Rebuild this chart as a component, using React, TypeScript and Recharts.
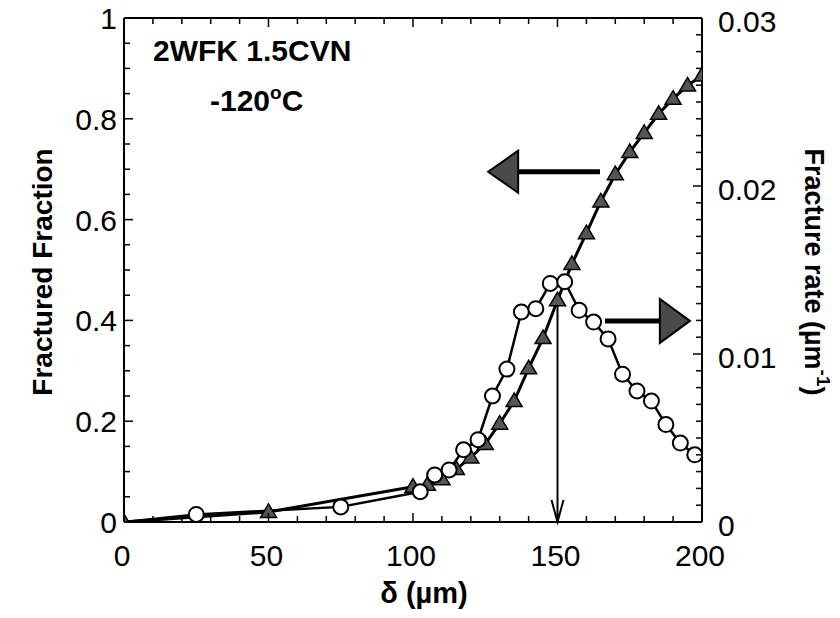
import React from 'react';
import {
  ComposedChart,
  Line,
  XAxis,
  YAxis,
  ReferenceLine,
  ReferenceDot,
  Customized,
} from 'recharts';

const FONT = '"Liberation Sans", Arial, Helvetica, sans-serif';

// Fractured fraction (left axis), triangles
const deltaFraction = [0, 50, 100, 105, 110, 115, 120, 125, 130, 135, 140, 145, 150, 155, 160, 165, 170, 175, 180, 185, 190, 195, 200];
const fracturedFraction = [0, 0.02, 0.07, 0.074, 0.085, 0.105, 0.128, 0.155, 0.195, 0.24, 0.305, 0.365, 0.44, 0.512, 0.573, 0.636, 0.69, 0.734, 0.772, 0.81, 0.84, 0.866, 0.886];

// Fracture rate (right axis), circles
const deltaRate = [0, 25, 75, 102.5, 107.5, 112.5, 117.5, 122.5, 127.5, 132.5, 137.5, 142.5, 147.5, 152.5, 157.5, 162.5, 167.5, 172.5, 177.5, 182.5, 187.5, 192.5, 197.5];
const fractureRate = [0, 0.00045, 0.0009, 0.0018, 0.0028, 0.0031, 0.0043, 0.0049, 0.0075, 0.0091, 0.0125, 0.0127, 0.0142, 0.0143, 0.0126, 0.0119, 0.0109, 0.0088, 0.0078, 0.0072, 0.0058, 0.0047, 0.004];

// Ticks
const xTicks = Array.from({ length: 21 }, (_, i) => i * 10);
const xTickLabels = [0, 50, 100, 150, 200];
const leftTicks = Array.from({ length: 21 }, (_, i) => +(i * 0.05).toFixed(2));
const leftTickLabels = [0, 0.2, 0.4, 0.6, 0.8, 1];
const rightTicks = Array.from({ length: 31 }, (_, i) => +(i * 0.001).toFixed(3));
const rightTickLabels = [0, 0.01, 0.02, 0.03];

const fractionData = deltaFraction.map((x, i) => ({ x, f: fracturedFraction[i] }));
const rateData = deltaRate.map((x, i) => ({ x, r: fractureRate[i] }));

const near = (v: number, list: number[]) => list.some((l) => Math.abs(l - v) < 1e-9);

const fmtLeft = (v: number) => (v === 0 ? '0' : v === 1 ? '1' : v.toFixed(1));
const fmtRight = (v: number) => (v === 0 ? '0' : v.toFixed(2));

const tickText = { fontSize: 30, fontFamily: FONT, fill: '#000' } as const;

const BottomTick = (props: any) => {
  const { x, y, payload } = props;
  const v = payload.value;
  const major = near(v, xTickLabels);
  return (
    <g>
      <line x1={x} x2={x} y1={y} y2={y - (major ? 9 : 6)} stroke="#000" strokeWidth={1.5} />
      {major && (
        <text x={x - 2} y={y + 44} textAnchor="middle" {...tickText}>
          {v}
        </text>
      )}
    </g>
  );
};

const TopTick = (props: any) => {
  const { x, y, payload } = props;
  const major = near(payload.value, xTickLabels);
  return <line x1={x} x2={x} y1={y} y2={y + (major ? 9 : 6)} stroke="#000" strokeWidth={1.5} />;
};

const LeftTick = (props: any) => {
  const { x, y, payload } = props;
  const v = payload.value;
  const major = near(v, leftTickLabels);
  return (
    <g>
      <line x1={x} x2={x + (major ? 9 : 6)} y1={y} y2={y} stroke="#000" strokeWidth={1.5} />
      {major && (
        <text x={x - 7} y={y + 11} textAnchor="end" {...tickText}>
          {fmtLeft(v)}
        </text>
      )}
    </g>
  );
};

const RightTick = (props: any) => {
  const { x, y, payload } = props;
  const v = payload.value;
  const major = near(v, rightTickLabels);
  return (
    <g>
      <line x1={x} x2={x - (major ? 9 : 6)} y1={y} y2={y} stroke="#000" strokeWidth={1.5} />
      {major && (
        <text x={x + 16} y={y + 14} textAnchor="start" {...tickText}>
          {fmtRight(v)}
        </text>
      )}
    </g>
  );
};

const TriangleDot = (props: any) => {
  const { cx, cy, index } = props;
  if (cx == null || cy == null) return <g key={`t-${index}`} />;
  return (
    <polygon
      key={`t-${index}`}
      points={`${cx},${cy - 8} ${cx - 8},${cy + 5.5} ${cx + 8},${cy + 5.5}`}
      fill="#555"
      stroke="#000"
      strokeWidth={1.5}
    />
  );
};

const CircleDot = (props: any) => {
  const { cx, cy, index, payload } = props;
  if (cx == null || cy == null || payload.x === 0) return <g key={`c-${index}`} />;
  return <circle key={`c-${index}`} cx={cx} cy={cy} r={7.5} fill="#fff" stroke="#000" strokeWidth={2} />;
};

const LeftHead = (props: any) => {
  const { cx, cy } = props;
  return <polygon points={`${cx},${cy} ${cx + 30},${cy - 21} ${cx + 30},${cy + 21}`} fill="#4a4a4a" stroke="#000" strokeWidth={2} />;
};

const RightHead = (props: any) => {
  const { cx, cy } = props;
  return <polygon points={`${cx},${cy} ${cx - 30},${cy - 22} ${cx - 30},${cy + 22}`} fill="#4a4a4a" stroke="#000" strokeWidth={2} />;
};

const DownHead = (props: any) => {
  const { cx, cy } = props;
  return <polyline points={`${cx - 6},${cy - 22} ${cx},${cy} ${cx + 6},${cy - 22}`} fill="none" stroke="#000" strokeWidth={2} />;
};

const Titles = () => (
  <g fontFamily={FONT} fontWeight="bold" fill="#000">
    <text x={42} y={272} fontSize={28} textAnchor="middle" dominantBaseline="central" transform="rotate(-90 42 272)">
      Fractured Fraction
    </text>
    <text x={814} y={272} fontSize={27} textAnchor="middle" dominantBaseline="central" transform="rotate(90 814 272)">
      Fracture rate (µm<tspan dy={-10} fontSize={19}>-1</tspan><tspan dy={10}>)</tspan>
    </text>
    <text x={424} y={603} fontSize={29} textAnchor="middle">
      δ (µm)
    </text>
    <text x={153} y={61} fontSize={30}>
      2WFK 1.5CVN
    </text>
    <text x={210} y={111} fontSize={30}>
      -120<tspan dy={-12} fontSize={19}>o</tspan><tspan dy={12}>C</tspan>
    </text>
  </g>
);

export default function App() {
  return (
    <div style={{ width: 840, height: 618, margin: -8 }}>
      <ComposedChart width={840} height={618} margin={{ top: 17, right: 78, bottom: 56, left: 64 }}>
        <XAxis
          xAxisId="bottom"
          dataKey="x"
          type="number"
          domain={[0, 200]}
          ticks={xTicks}
          interval={0}
          height={40}
          tickSize={0}
          tickMargin={0}
          tickLine={false}
          axisLine={{ stroke: '#000', strokeWidth: 2 }}
          tick={BottomTick}
          allowDataOverflow
        />
        <XAxis
          xAxisId="top"
          orientation="top"
          dataKey="x"
          type="number"
          domain={[0, 200]}
          ticks={xTicks}
          interval={0}
          height={1}
          tickSize={0}
          tickMargin={0}
          tickLine={false}
          axisLine={{ stroke: '#000', strokeWidth: 2 }}
          tick={TopTick}
          allowDataOverflow
        />
        <YAxis
          yAxisId="left"
          type="number"
          domain={[0, 1]}
          ticks={leftTicks}
          interval={0}
          width={60}
          tickSize={0}
          tickMargin={0}
          tickLine={false}
          axisLine={{ stroke: '#000', strokeWidth: 2 }}
          tick={LeftTick}
          allowDataOverflow
        />
        <YAxis
          yAxisId="right"
          orientation="right"
          type="number"
          domain={[0, 0.03]}
          ticks={rightTicks}
          interval={0}
          width={60}
          tickSize={0}
          tickMargin={0}
          tickLine={false}
          axisLine={{ stroke: '#000', strokeWidth: 2 }}
          tick={RightTick}
          allowDataOverflow
        />
        <ReferenceLine
          xAxisId="bottom"
          yAxisId="left"
          segment={[{ x: 150, y: 0.44 }, { x: 150, y: 0 }]}
          stroke="#000"
          strokeWidth={2}
        />
        <ReferenceDot xAxisId="bottom" yAxisId="left" x={150} y={0} shape={DownHead} />
        <ReferenceLine
          xAxisId="bottom"
          yAxisId="left"
          segment={[{ x: 136, y: 0.695 }, { x: 164.7, y: 0.695 }]}
          stroke="#000"
          strokeWidth={5}
        />
        <ReferenceDot xAxisId="bottom" yAxisId="left" x={126} y={0.695} shape={LeftHead} />
        <ReferenceLine
          xAxisId="bottom"
          yAxisId="left"
          segment={[{ x: 166.4, y: 0.399 }, { x: 185.5, y: 0.399 }]}
          stroke="#000"
          strokeWidth={5}
        />
        <ReferenceDot xAxisId="bottom" yAxisId="left" x={195.8} y={0.399} shape={RightHead} />
        <Line
          xAxisId="bottom"
          yAxisId="left"
          data={fractionData}
          dataKey="f"
          type="linear"
          stroke="#000"
          strokeWidth={3}
          dot={TriangleDot}
          activeDot={false}
          isAnimationActive={false}
        />
        <Line
          xAxisId="bottom"
          yAxisId="right"
          data={rateData}
          dataKey="r"
          type="linear"
          stroke="#000"
          strokeWidth={2.5}
          dot={CircleDot}
          activeDot={false}
          isAnimationActive={false}
        />
        <Customized component={Titles} />
      </ComposedChart>
    </div>
  );
}
